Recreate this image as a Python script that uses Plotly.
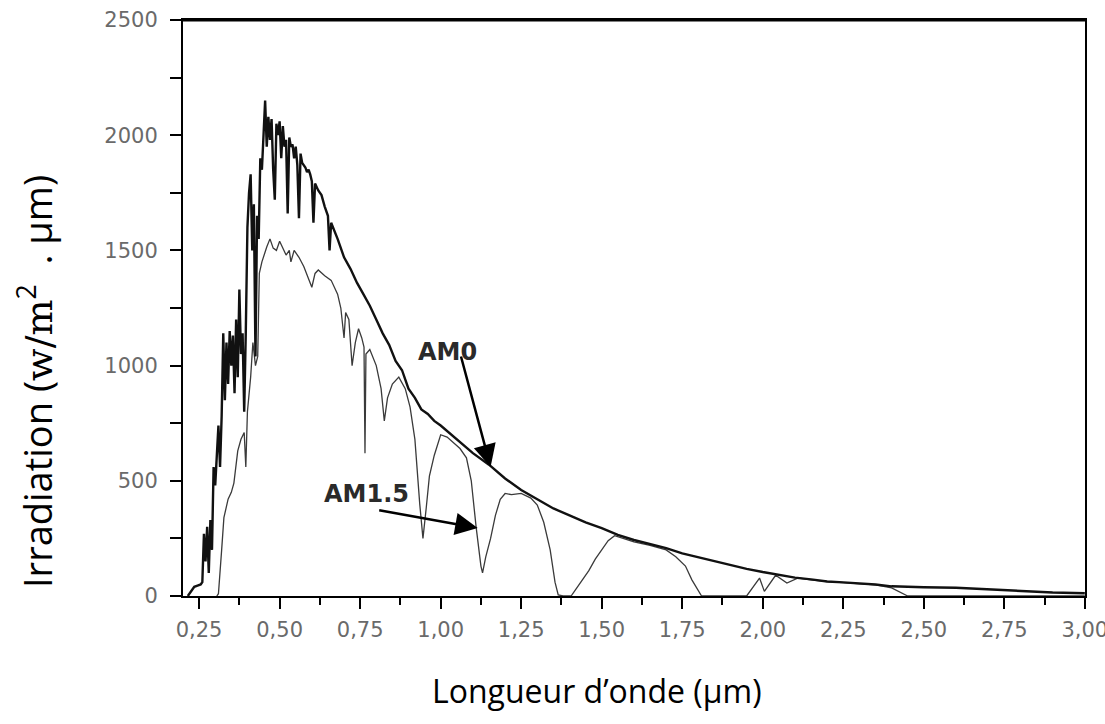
import plotly.graph_objects as go

# AM0 spectrum (wavelength µm, irradiance W/m²/µm)
am0_wl = [0.215, 0.225, 0.235, 0.245, 0.255, 0.260, 0.265, 0.270, 0.275, 0.280, 0.285, 0.290, 0.295,
          0.300, 0.305, 0.310, 0.315, 0.320, 0.325, 0.330, 0.335, 0.340, 0.345, 0.350, 0.355, 0.360,
          0.365, 0.370, 0.375, 0.380, 0.385, 0.390, 0.395, 0.400, 0.405, 0.410, 0.415, 0.420, 0.425,
          0.430, 0.435, 0.440, 0.445, 0.450, 0.455, 0.460, 0.465, 0.470, 0.475, 0.480, 0.485, 0.490,
          0.495, 0.500, 0.505, 0.510, 0.515, 0.520, 0.525, 0.530, 0.535, 0.540, 0.545, 0.550, 0.555,
          0.560, 0.565, 0.570, 0.575, 0.580, 0.585, 0.590, 0.595, 0.600, 0.605, 0.610, 0.620, 0.630,
          0.640, 0.650, 0.655, 0.660, 0.680, 0.700, 0.720, 0.740, 0.760, 0.780, 0.800, 0.820, 0.840,
          0.860, 0.880, 0.900, 0.920, 0.940, 0.960, 0.980, 1.000, 1.050, 1.100, 1.150, 1.200, 1.250,
          1.300, 1.350, 1.400, 1.450, 1.500, 1.550, 1.600, 1.650, 1.700, 1.750, 1.800, 1.850, 1.900,
          1.950, 2.000, 2.050, 2.100, 2.150, 2.200, 2.250, 2.300, 2.350, 2.400, 2.450, 2.500, 2.600,
          2.700, 2.800, 2.900, 3.000]
am0_irr = [0, 20, 40, 45, 50, 60, 270, 150, 300, 100, 330, 200, 560,
           480, 620, 740, 560, 780, 1140, 850, 1100, 920, 1150, 1000, 1130, 880,
           1200, 950, 1330, 1050, 1140, 800, 1150, 1600, 1750, 1830, 1500, 1700, 1040,
           1650, 1550, 1900, 1850, 2000, 2150, 1950, 2080, 1980, 2070, 1850, 1720, 2050,
           2000, 2060, 1900, 2040, 1950, 1980, 1660, 1990, 1950, 1960, 1900, 1950, 1870,
           1640, 1920, 1880, 1870, 1860, 1840, 1850, 1830, 1800, 1620, 1790, 1760, 1740,
           1690, 1650, 1500, 1620, 1550, 1470, 1420, 1360, 1310, 1260, 1200, 1140, 1090,
           1020, 980, 900, 860, 810, 790, 760, 740, 680, 620, 570, 510, 460,
           420, 380, 350, 320, 295, 265, 243, 225, 208, 185, 168, 150, 135,
           118, 104, 92, 80, 72, 63, 59, 56, 50, 42, 39, 38, 36,
           28, 20, 15, 12]

# AM1.5 spectrum
am15_wl = [0.305, 0.310, 0.320, 0.327, 0.340, 0.350, 0.358, 0.370, 0.380, 0.390, 0.395, 0.400, 0.410,
           0.417, 0.425, 0.432, 0.437, 0.445, 0.460, 0.470, 0.480, 0.490, 0.500, 0.510, 0.520, 0.530,
           0.535, 0.545, 0.560, 0.575, 0.590, 0.600, 0.610, 0.620, 0.640, 0.660, 0.680, 0.690, 0.700,
           0.705, 0.715, 0.725, 0.735, 0.745, 0.755, 0.762, 0.765, 0.768, 0.780, 0.800, 0.815, 0.825,
           0.835, 0.850, 0.870, 0.890, 0.905, 0.920, 0.935, 0.945, 0.955, 0.965, 0.980, 1.000, 1.020,
           1.040, 1.060, 1.080, 1.095, 1.110, 1.125, 1.130, 1.140, 1.155, 1.170, 1.185, 1.200, 1.220,
           1.250, 1.280, 1.300, 1.320, 1.340, 1.355, 1.365, 1.380, 1.405, 1.420, 1.440, 1.460, 1.480,
           1.500, 1.520, 1.540, 1.570, 1.600, 1.650, 1.700, 1.730, 1.760, 1.780, 1.800, 1.810, 1.950,
           1.970, 1.990, 2.005, 2.015, 2.040, 2.075, 2.110, 2.150, 2.200, 2.250, 2.300, 2.350, 2.400,
           2.430, 2.450, 3.000]
am15_irr = [0, 10, 200, 340, 420, 450, 490, 630, 680, 710, 560, 800, 950,
            1100, 1000, 1040, 1400, 1450, 1515, 1550, 1510, 1500, 1540, 1510, 1480, 1500,
            1450, 1500, 1470, 1430, 1380, 1340, 1400, 1415, 1390, 1370, 1310, 1250, 1120,
            1230, 1200, 1000, 1100, 1160, 1120, 1080, 620, 1050, 1070, 1000, 900, 760,
            860, 920, 950, 900, 820, 680, 400, 250, 380, 520, 610, 700, 690,
            665, 640, 600, 500, 300, 130, 100, 170, 250, 350, 420, 445, 440,
            445, 425, 395, 320, 200, 60, 5, 0, 0, 30, 70, 110, 160,
            200, 240, 262, 250, 235, 220, 200, 170, 130, 70, 20, 0, 0,
            40, 78, 20, 40, 90, 56, 78, 70, 62, 58, 54, 48, 35,
            15, 0, 0]

x_ticks = [0.25, 0.50, 0.75, 1.00, 1.25, 1.50, 1.75, 2.00, 2.25, 2.50, 2.75, 3.00]
y_ticks = [0, 500, 1000, 1500, 2000, 2500]

fig = go.Figure()
fig.add_trace(go.Scatter(x=am15_wl, y=am15_irr, mode="lines", name="AM1.5",
                         line=dict(color="#3a3a3a", width=1.3)))
fig.add_trace(go.Scatter(x=am0_wl, y=am0_irr, mode="lines", name="AM0",
                         line=dict(color="#111111", width=2.4)))

tickfont = dict(family="DejaVu Sans", size=21, color="#6a6a6a")

fig.update_xaxes(range=[0.2, 3.0005], tickvals=x_ticks, tickformat=".2f",
                 showline=True, linecolor="black", linewidth=2, mirror=True,
                 ticks="outside", ticklen=11, tickwidth=2, tickcolor="black",
                 minor=dict(ticks="outside", ticklen=7, tickwidth=2, tickcolor="black",
                            tick0=0.125, dtick=0.25),
                 ticklabelstandoff=3, ticklabeloverflow="allow", automargin=False,
                 showgrid=False, zeroline=False, tickfont=tickfont)
fig.update_yaxes(range=[0, 2500], tickvals=y_ticks, tickformat="d",
                 showline=True, linecolor="black", linewidth=2, mirror=True,
                 ticks="outside", ticklen=11, tickwidth=2, tickcolor="black",
                 minor=dict(ticks="outside", ticklen=11, tickwidth=2, tickcolor="black",
                            tick0=250, dtick=500),
                 ticklabelstandoff=8, automargin=False,
                 showgrid=False, zeroline=False, tickfont=tickfont)

annotations = [
    dict(x=1.022, y=1059, xref="x", yref="y", text="<b>AM0</b>", showarrow=False,
         font=dict(family="DejaVu Sans", size=24, color="#2a2a2a")),
    dict(x=0.771, y=443, xref="x", yref="y", text="<b>AM1.5</b>", showarrow=False,
         font=dict(family="DejaVu Sans", size=24, color="#2a2a2a")),
    dict(x=1.155, y=560, xref="x", yref="y", text="", showarrow=True,
         ax=-30, ay=-112, arrowhead=2, arrowsize=1.8, arrowwidth=2.5, arrowcolor="black"),
    dict(x=1.115, y=295, xref="x", yref="y", text="", showarrow=True,
         ax=-100, ay=-18, arrowhead=2, arrowsize=1.8, arrowwidth=2.5, arrowcolor="black"),
    dict(x=0, y=0.3715, xref="paper", yref="paper", xshift=-148, xanchor="center",
         yanchor="middle", textangle=-90,
         text="Irradiation (<span style='font-family:DejaVu Serif'>w/m</span><sup>2</sup>\u00a0\u00a0. µm)",
         showarrow=False, font=dict(family="Open Sans", size=38, color="black")),
    dict(x=0.459, y=0, xref="paper", yref="paper", yshift=-94, yanchor="middle",
         text="Longueur d’onde (µm)", showarrow=False,
         font=dict(family="Open Sans", size=32, color="black")),
]

fig.update_layout(width=1105, height=724, margin=dict(l=183, r=20, t=20, b=128),
                  plot_bgcolor="white", paper_bgcolor="white", showlegend=False,
                  separators=", ", annotations=annotations)
fig.add_shape(type="line", xref="paper", yref="paper", x0=0, x1=1, y0=1, y1=1,
              line=dict(color="black", width=3))

fig.write_html("out.html")
